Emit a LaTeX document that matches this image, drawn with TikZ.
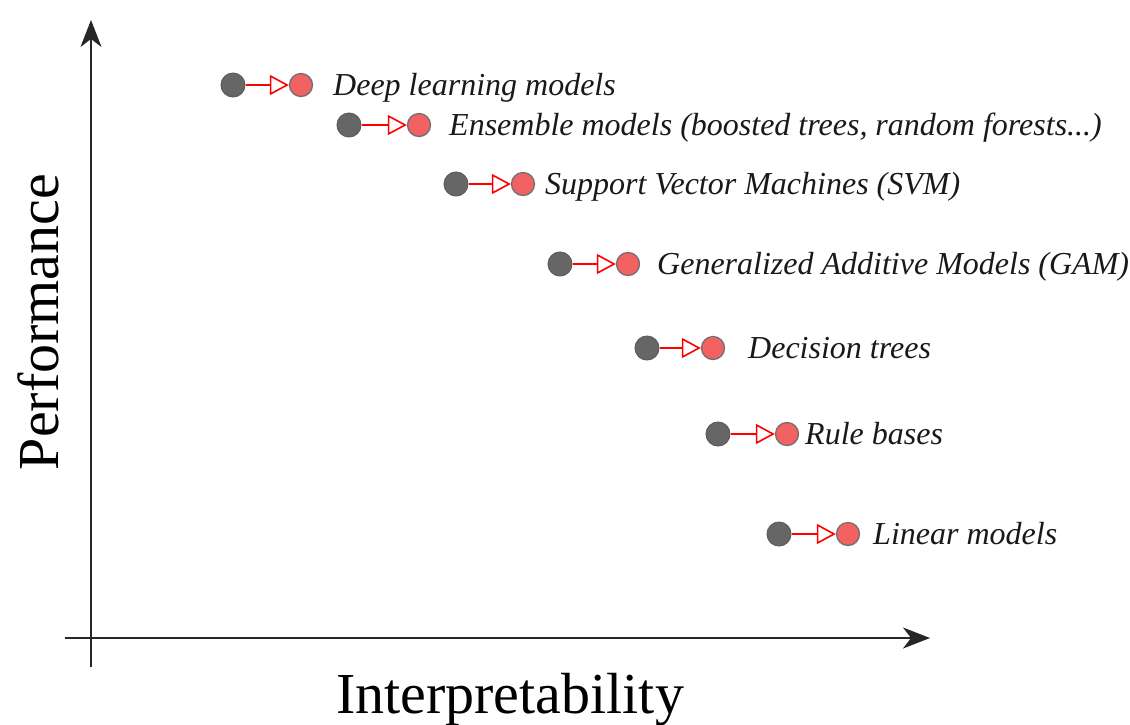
\documentclass[tikz,border=0pt]{standalone}
\usepackage{fontspec}
\setmainfont{Liberation Serif}
\usetikzlibrary{arrows.meta}
\definecolor{dotgray}{HTML}{666666}
\definecolor{dotred}{HTML}{F26262}
\definecolor{rimgray}{HTML}{707070}
\tikzset{
  axis/.style={line width=1.6pt, draw=black!85, -{Stealth[length=27pt, width=21pt, inset=8pt]}},
  graydot/.style={circle, fill=dotgray, draw=dotgray!90!black, line width=1pt, minimum size=24pt, inner sep=0pt},
  reddot/.style={circle, fill=dotred, draw=rimgray, line width=1.3pt, minimum size=23pt, inner sep=0pt},
  gainarrow/.style={draw=red, line width=1.6pt, -{Triangle[open, length=19pt, width=20pt, line width=1.6pt]}},
  modellabel/.style={anchor=base west, inner sep=0pt, font=\fontsize{32}{37}\selectfont\itshape, text=black!90},
  axislabel/.style={inner sep=0pt, font=\fontsize{58}{64}\selectfont, text=black}
}
\begin{document}
\begin{tikzpicture}[x=1pt, y=-1pt]
  \useasboundingbox (0,0) rectangle (1130,724);
  % axes
  \coordinate (yb) at (91,667);
  \coordinate (yt) at (91,20);
  \coordinate (xl) at (65,638);
  \coordinate (xr) at (930,638);
  \draw[axis] (yb) -- (yt);
  \draw[axis] (xl) -- (xr);
  \node[axislabel, rotate=90] (perf) at (38,322) {Performance};
  \node[axislabel, anchor=base] (interp) at (510,713) {Interpretability};
  % models: gray x, red x, label x, y, name, label
  \foreach \gx/\rx/\tx/\yy/\nm/\lbl in {
      233/301/333/85/dl/{Deep learning models},
      349/419/449/125/ens/{Ensemble models (boosted trees, random forests...)},
      456/523/545/184/svm/{Support Vector Machines (SVM)},
      560/628/657/264/gam/{Generalized Additive Models (GAM)},
      647/713/748/348/dt/{Decision trees},
      718/787/805/434/rb/{Rule bases},
      779/848/873/534/lin/{Linear models}} {
    \node[graydot] (\nm-a) at (\gx,\yy) {};
    \node[reddot] (\nm-b) at (\rx,\yy) {};
    \draw[gainarrow] (\nm-a.east) -- (\nm-b.west);
    \node[modellabel] (\nm-t) at (\tx,\yy+10) {\lbl};
  }
\end{tikzpicture}
\end{document}
